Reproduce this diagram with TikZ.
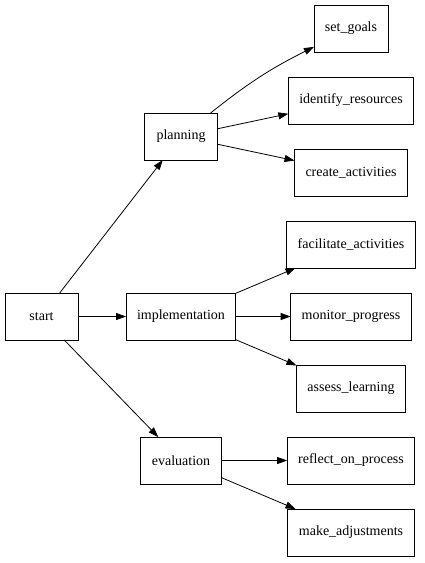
\documentclass[tikz,border=0pt]{standalone}
\usepackage{fontspec}
\setmainfont{Liberation Serif}
\newfontfamily\boxfont{Liberation Serif}
\usetikzlibrary{positioning, arrows.meta}

\begin{document}
\begin{tikzpicture}[x=1pt, y=-1pt,
    node distance=25pt,
    box/.style={draw, rectangle, line width=0.9pt, outer sep=0pt,
                minimum height=47pt, minimum width=73pt,
                inner xsep=11pt, font=\boxfont\fontsize{14}{16}\selectfont},
    arrow/.style={-{Triangle[length=10pt, width=7pt]}, line width=0.8pt}]
  \useasboundingbox (0,0) rectangle (424,563);
  \node[box] (st) at (41.5,316.5) {start};
  \node[box] (pl) at (181,136.5) {planning};
  \node[box, below=133pt of pl] (im) {implementation};
  \node[box, below=97pt of im] (ev) {evaluation};
  \draw[arrow] (st) -- (pl);
  \draw[arrow] (st) -- (im);
  \draw[arrow] (st) -- (ev);

  \node[box] (sg) at (351,28.5) {set\_goals};
  \node[box, below=of sg] (ir) {identify\_resources};
  \node[box, below=of ir] (ca) {create\_activities};
  \node[box, below=of ca] (fa) {facilitate\_activities};
  \node[box, below=of fa] (mp) {monitor\_progress};
  \node[box, below=of mp] (al) {assess\_learning};
  \node[box, below=of al] (rp) {reflect\_on\_process};
  \node[box, below=of rp] (ma) {make\_adjustments};
  \draw[arrow] (pl) to[bend left=6] (sg);
  \draw[arrow] (pl) -- (ir);
  \draw[arrow] (pl) -- (ca);
  \draw[arrow] (im) -- (fa);
  \draw[arrow] (im) -- (mp);
  \draw[arrow] (im) -- (al);
  \draw[arrow] (ev) -- (rp);
  \draw[arrow] (ev) -- (ma);
\end{tikzpicture}
\end{document}
